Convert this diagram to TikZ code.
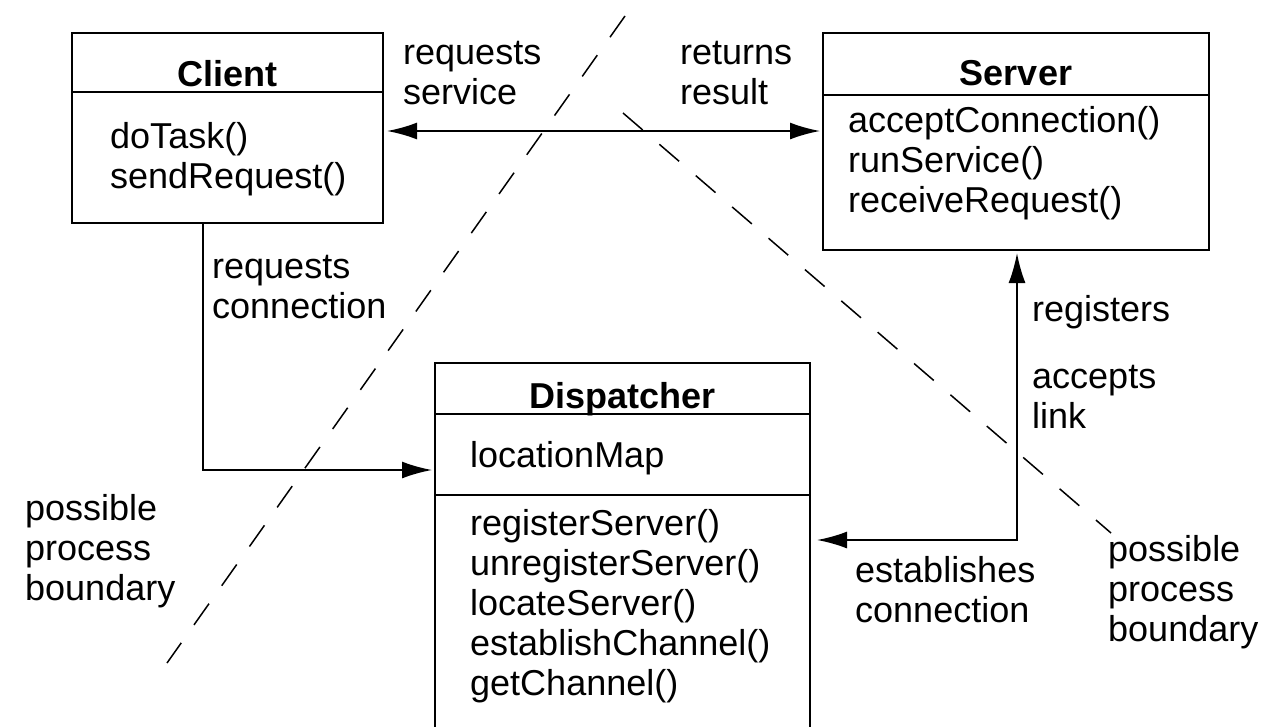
\documentclass[tikz,border=0pt]{standalone}
\usepackage{fontspec}
\setmainfont{Liberation Sans}
\usetikzlibrary{
    arrows.meta,
    positioning,
    calc
}
\newcommand{\diagfont}{\fontsize{36}{40}\selectfont}
\tikzset{
    % Classes
    class box/.style={draw,line width=2pt,inner sep=0pt,outer sep=0pt,anchor=north west},
    class title/.style={font={\diagfont\bfseries},anchor=base},
    class text/.style={align=left,anchor=base west,inner sep=0pt},
    divider/.style={line width=2pt},
    %
    % Arrows
    arrow tip/.tip={Latex[length=30pt,width=17pt]},
    arr/.style={-{arrow tip},line width=2pt},
    darr/.style={{arrow tip}-{arrow tip},line width=2pt},
    %
    % Process boundaries
    boundary/.style={line width=1.5pt,dash pattern=on 26pt off 22pt}
}
\tikzstyle{every node}=[font=\diagfont]

\begin{document}
\begin{tikzpicture}[x=1pt,y=-1pt]
        \clip (0,0) rectangle (1264,726);
        % classes
        \node[class box,minimum width=311pt,minimum height=190pt] (client) at (72,33) {};
        \node[class box,minimum width=386pt,minimum height=217pt] (server) at (823,33) {};
        \node[class box,minimum width=375pt,minimum height=380pt] (dispatcher) at (435,363) {};
        \draw[divider] ($(client.north west)+(0,59)$) -- ($(client.north east)+(0,59)$);
        \draw[divider] ($(server.north west)+(0,62)$) -- ($(server.north east)+(0,62)$);
        \draw[divider] ($(dispatcher.north west)+(0,51)$) -- ($(dispatcher.north east)+(0,51)$);
        \draw[divider] ($(dispatcher.north west)+(0,132)$) -- ($(dispatcher.north east)+(0,132)$);
        \node[class title] (client name) at (227.5,86) {Client};
        \node[class title] (server name) at (1016,85) {Server};
        \node[class title] (dispatcher name) at (622.5,408) {Dispatcher};
        % (base = last line)
        \node[class text] (client ops) at (110,188) {doTask()\\sendRequest()};
        \node[class text] (server ops) at (848,212) {acceptConnection()\\runService()\\receiveRequest()};
        \node[class text] (dispatcher attr) at (470,467) {locationMap};
        \node[class text] (dispatcher ops) at (470,695) {registerServer()\\unregisterServer()\\locateServer()\\establishChannel()\\getChannel()};
        % links
        \coordinate (link) at (0,131);
        \coordinate (req) at (203,470);
        \coordinate (reg) at (1017,540);
        \draw[darr,shorten <=4pt,shorten >=3pt] (client.east |- link) -- (server.west |- link);
        \draw[arr,shorten >=3pt] (client.south -| req) -- (req) -- (dispatcher.west |- req);
        \draw[darr,shorten <=3pt,shorten >=7pt] (server.south -| reg) -- (reg) -- (dispatcher.east |- reg);
        % labels
        \node[class text] (req service) at (403,104) {requests\\service};
        \node[class text] (ret result) at (680,104) {returns\\result};
        \node[class text] (req conn) at (212,318) {requests\\connection};
        \node[class text] (registers) at (1032,321) {registers};
        \node[class text] (accepts) at (1032,428) {accepts\\link};
        \node[class text] (establishes) at (855,622) {establishes\\connection};
        \node[class text] (left boundary) at (25,600) {possible\\process\\boundary};
        \node[class text] (right boundary) at (1108,641) {possible\\process\\boundary};
        % process boundaries
        \coordinate (b1 top) at (625,16);
        \coordinate (b1 bottom) at (167,663);
        \coordinate (b2 top) at (623,113);
        \coordinate (b2 bottom) at (1111,533);
        \draw[boundary] (b1 top) -- (b1 bottom);
        \draw[boundary] (b2 top) -- (b2 bottom);
    \end{tikzpicture}
\end{document}
